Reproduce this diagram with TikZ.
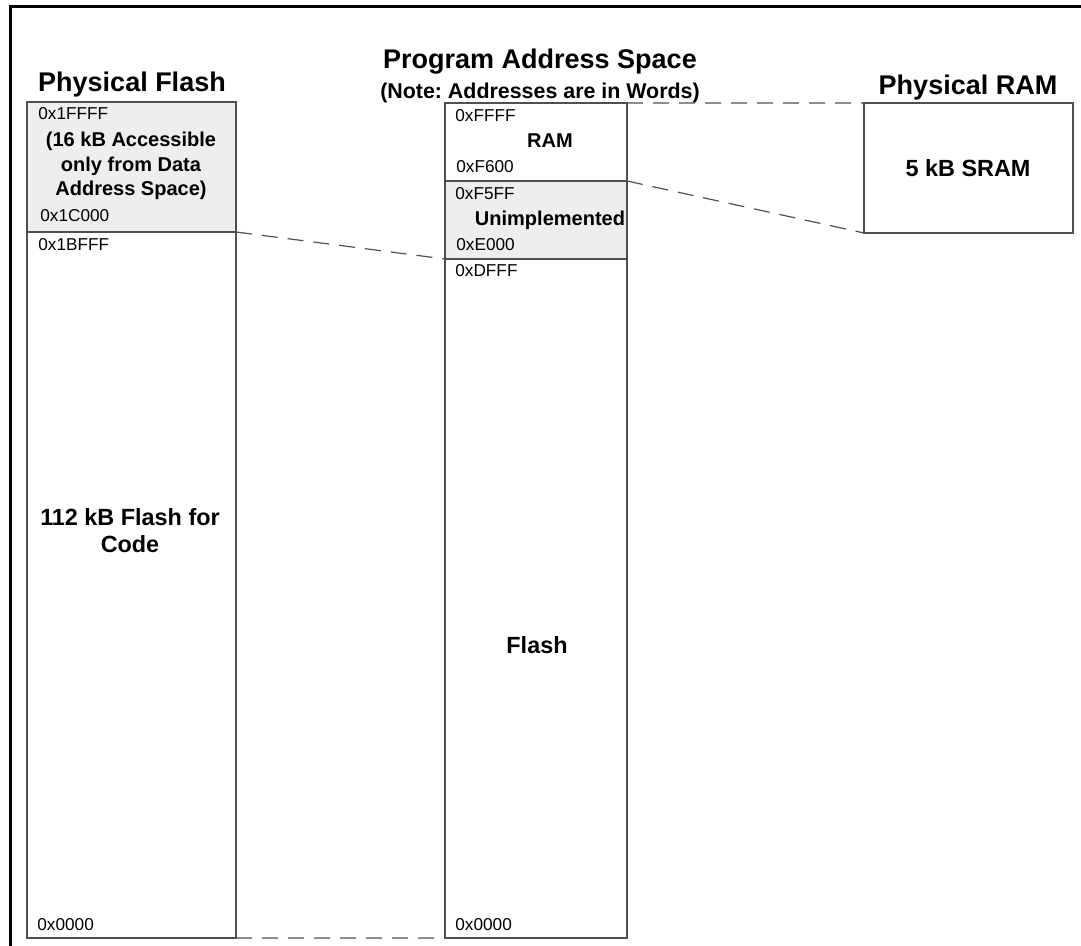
\documentclass[tikz,border=0pt]{standalone}
\usepackage{fontspec}
\setmainfont{Liberation Sans}
\usetikzlibrary{positioning,calc}
\frenchspacing

\definecolor{shade}{HTML}{EEEEEE}
\definecolor{edge}{HTML}{505050}

\begin{document}
\begin{tikzpicture}[x=0.5pt, y=-0.5pt,
            region/.style={draw=edge, line width=0.6pt, inner sep=0pt, outer sep=0pt, anchor=north west}, % one block of a memory column
            addr/.style={font=\fontsize{8.6}{10}\selectfont, anchor=west, inner sep=0pt}, % address marks
            lbl/.style={font=\bfseries\fontsize{10}{12.2}\selectfont, align=center, inner sep=0pt},
            biglbl/.style={font=\bfseries\fontsize{11.7}{13.5}\selectfont, align=center, inner sep=0pt},
            heading/.style={font=\bfseries\fontsize{13.5}{15}\selectfont, inner sep=0pt},
            link/.style={draw=edge, line width=0.6pt, dash pattern=on 8pt off 5pt}, % dashed mapping lines
        ]
        \useasboundingbox (0,0) rectangle (1081,946);
        \clip (0,0) rectangle (1081,946);

        % outer frame, cut at right and bottom
        \draw[line width=1.5pt] (10,7) rectangle (1100,980);

        % physical flash
        \node (fsec)  [region, fill=shade, minimum width=104.5pt, minimum height=65pt]  at (27,102) {};
        \node (fcode) [region, minimum width=104.5pt, minimum height=353pt] at (27,232) {};

        % program address space
        \node (pram)   [region, minimum width=91pt, minimum height=39pt] at (445,103) {};
        \node (punimp) [region, fill=shade, minimum width=91pt, minimum height=39pt] at (445,181) {};
        \node (pflash) [region, minimum width=91pt, minimum height=339.5pt] at (445,259) {};

        % physical ram
        \node (sram) [region, minimum width=104.5pt, minimum height=65pt] at (864,103) {};

        % headings
        \node (hflash) [heading] at (132,85) {Physical Flash};
        \node (hprog)  [heading] at (540,62) {Program Address Space};
        \node (hnote)  [lbl, font=\bfseries\fontsize{10.7}{12}\selectfont, below=4pt of hprog] {(Note: Addresses are in Words)};
        \node (hram)   [heading] at (968,88) {Physical RAM};

        % texts in the blocks
        \node (tsec)  [lbl]    at (131,166) {(16 kB Accessible\\only from Data\\Address Space)};
        \node (tcode) [biglbl] at (130,531) {112 kB Flash for\\Code};
        \node (tram)  [lbl]    at (550,141) {RAM};
        \node (tun)   [lbl]    at (550,220) {Unimplemented};
        \node (tfl)   [biglbl] at (537,645) {Flash};
        \node (tsr)   [biglbl] at (968,168) {5 kB SRAM};

        % addresses
        \node (a1)  [addr] at (38,114)  {0x1FFFF};
        \node (a2)  [addr] at (40,216)  {0x1C000};
        \node (a3)  [addr] at (38,245)  {0x1BFFF};
        \node (a4)  [addr] at (37,925)  {0x0000};
        \node (a5)  [addr] at (455,116) {0xFFFF};
        \node (a6)  [addr] at (456,167) {0xF600};
        \node (a7)  [addr] at (455,194) {0xF5FF};
        \node (a8)  [addr] at (456,245) {0xE000};
        \node (a9)  [addr] at (455,271) {0xDFFF};
        \node (a10) [addr] at (455,925) {0x0000};

        \draw[link]
        (fsec.south east) -- (pflash.north west)
        (pram.north east) -- (sram.north west)
        (pram.south east) -- (sram.south west)
        (fcode.south east) -- (pflash.south west);
    \end{tikzpicture}
\end{document}
